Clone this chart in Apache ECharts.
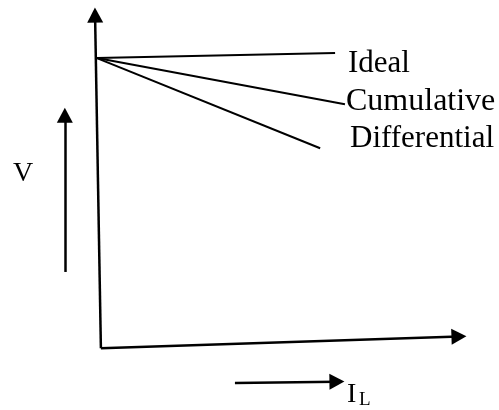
<!DOCTYPE html>
<html>
<head>
<meta charset="utf-8">
<script src="https://cdn.jsdelivr.net/npm/echarts@6/dist/echarts.min.js"></script>
<style>
  html, body { margin: 0; padding: 0; background: #fff; }
  #main { width: 499px; height: 410px; }
</style>
</head>
<body>
<div id="main"></div>
<script>
// curves: each goes from the point on the V axis to its end (x = I_L, y = V)
var names = ['Ideal', 'Cumulative', 'Differential'];
var lineX = [[-1.4, 64.0], [-1.4, 66.7], [-1.4, 59.9]];
var lineY = [[85, 86.5], [85, 71.5], [85, 58.6]];

// sketch axes and the two small direction arrows [from, to]
var axisV = [[-0.3, 0.1], [-1.9, 97.6]];
var axisI = [[-0.3, 0.1], [98.0, 3.5]];
var arrowV = [[-10.2, 22.4], [-10.2, 68.3]];
var arrowI = [[36.5, -10.1], [64.5, -9.7]];

var myChart = echarts.init(document.getElementById('main'));

function pair(p) {
  return [{coord: p[0]}, {coord: p[1]}];
}

var series = names.map(function (n, i) {
  return {
    name: n,
    type: 'line',
    data: [[lineX[i][0], lineY[i][0]], [lineX[i][1], lineY[i][1]]],
    showSymbol: false,
    clip: false,
    silent: true,
    lineStyle: {color: '#000', width: 2}
  };
});

series.push({
  type: 'line',
  data: [],
  clip: false,
  silent: true,
  markLine: {
    silent: true,
    symbol: ['none', 'triangle'],
    symbolSize: [16, 15],
    label: {show: false},
    lineStyle: {color: '#000', width: 2.5, type: 'solid'},
    data: [pair(axisV), pair(axisI), pair(arrowV), pair(arrowI)]
  }
});

var font = 'Liberation Serif';
function txt(s, x, y, size) {
  return {type: 'text', x: x, y: y, style: {text: s, font: size + 'px ' + font, fill: '#000', verticalAlign: 'top'}};
}

myChart.setOption({
  animation: false,
  grid: {left: 0, right: 0, top: 0, bottom: 0},
  xAxis: {type: 'value', min: -28, max: 109, show: false},
  yAxis: {type: 'value', min: -18, max: 102, show: false},
  series: series,
  graphic: [
    txt('Ideal', 348, 48, 31),
    txt('Cumulative', 346, 86, 32),
    txt('Differential', 350, 123, 31),
    txt('V', 13, 160, 28),
    txt('I', 347, 381, 28),
    txt('L', 359, 391, 19)
  ]
});
</script>
</body>
</html>
